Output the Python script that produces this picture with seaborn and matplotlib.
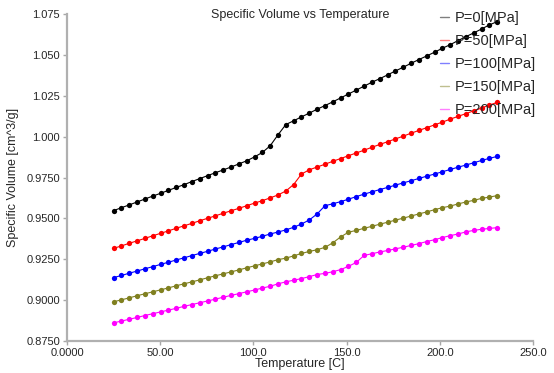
import pandas as pd
import matplotlib
matplotlib.use("Agg")
import matplotlib.pyplot as plt
from matplotlib.lines import Line2D
import seaborn as sns

# Temperatures [C] (50 points, same for every pressure)
temps = [25.0, 29.2, 33.4, 37.6, 41.8, 46.0, 50.2, 54.4, 58.6, 62.8,
         67.0, 71.2, 75.4, 79.6, 83.8, 88.0, 92.2, 96.4, 100.6, 104.8,
         109.0, 113.2, 117.4, 121.6, 125.8, 130.0, 134.2, 138.4, 142.6, 146.8,
         151.0, 155.2, 159.4, 163.6, 167.8, 172.0, 176.2, 180.4, 184.6, 188.8,
         193.0, 197.2, 201.4, 205.6, 209.8, 214.0, 218.2, 222.4, 226.6, 230.8]

# Specific volume [cm^3/g] for each pressure
v_p0 = [0.9548, 0.9566, 0.9583, 0.9601, 0.9619, 0.9637, 0.9654, 0.9672, 0.9690, 0.9707,
        0.9726, 0.9744, 0.9762, 0.9780, 0.9797, 0.9815, 0.9834, 0.9853, 0.9877, 0.9904,
        0.9945, 1.0012, 1.0075, 1.0098, 1.0122, 1.0145, 1.0169, 1.0191, 1.0214, 1.0238,
        1.0262, 1.0286, 1.0310, 1.0334, 1.0356, 1.0379, 1.0403, 1.0426, 1.0450, 1.0473,
        1.0495, 1.0518, 1.0542, 1.0564, 1.0589, 1.0613, 1.0636, 1.0660, 1.0685, 1.0705]
v_p50 = [0.9317, 0.9332, 0.9348, 0.9363, 0.9378, 0.9394, 0.9409, 0.9424, 0.9440, 0.9455,
         0.9470, 0.9486, 0.9501, 0.9516, 0.9532, 0.9547, 0.9562, 0.9578, 0.9594, 0.9609,
         0.9626, 0.9644, 0.9668, 0.9708, 0.9772, 0.9798, 0.9815, 0.9832, 0.9850, 0.9867,
         0.9884, 0.9901, 0.9918, 0.9936, 0.9953, 0.9970, 0.9987, 1.0004, 1.0022, 1.0039,
         1.0056, 1.0073, 1.0090, 1.0108, 1.0125, 1.0142, 1.0159, 1.0176, 1.0194, 1.0211]
v_p100 = [0.9138, 0.9151, 0.9165, 0.9178, 0.9192, 0.9205, 0.9219, 0.9232, 0.9246, 0.9259,
          0.9273, 0.9286, 0.9299, 0.9313, 0.9326, 0.9340, 0.9353, 0.9367, 0.9378, 0.9391,
          0.9405, 0.9417, 0.9430, 0.9446, 0.9466, 0.9491, 0.9528, 0.9578, 0.9590, 0.9603,
          0.9618, 0.9634, 0.9649, 0.9663, 0.9677, 0.9690, 0.9704, 0.9718, 0.9731, 0.9745,
          0.9759, 0.9772, 0.9786, 0.9800, 0.9814, 0.9827, 0.9841, 0.9855, 0.9868, 0.9880]
v_p150 = [0.8990, 0.9002, 0.9014, 0.9027, 0.9039, 0.9051, 0.9063, 0.9075, 0.9088, 0.9100,
          0.9112, 0.9124, 0.9137, 0.9149, 0.9161, 0.9173, 0.9185, 0.9198, 0.9210, 0.9222,
          0.9234, 0.9248, 0.9257, 0.9271, 0.9286, 0.9298, 0.9309, 0.9323, 0.9351, 0.9387,
          0.9416, 0.9427, 0.9440, 0.9452, 0.9465, 0.9477, 0.9490, 0.9502, 0.9515, 0.9528,
          0.9540, 0.9554, 0.9566, 0.9576, 0.9589, 0.9601, 0.9611, 0.9623, 0.9631, 0.9640]
v_p200 = [0.8861, 0.8872, 0.8883, 0.8894, 0.8906, 0.8917, 0.8928, 0.8939, 0.8950, 0.8962,
          0.8973, 0.8984, 0.8995, 0.9006, 0.9018, 0.9029, 0.9040, 0.9051, 0.9062, 0.9074,
          0.9085, 0.9100, 0.9112, 0.9122, 0.9132, 0.9144, 0.9157, 0.9164, 0.9174, 0.9187,
          0.9207, 0.9231, 0.9274, 0.9284, 0.9295, 0.9304, 0.9314, 0.9324, 0.9335, 0.9346,
          0.9359, 0.9370, 0.9383, 0.9395, 0.9405, 0.9418, 0.9427, 0.9434, 0.9439, 0.9444]

labels = ["P=0[MPa]", "P=50[MPa]", "P=100[MPa]", "P=150[MPa]", "P=200[MPa]"]
colors = ["#000000", "#ff0000", "#0000ff", "#808020", "#ff00ff"]
series = [v_p0, v_p50, v_p100, v_p150, v_p200]

xtick_vals = [0, 50, 100, 150, 200, 250]
xtick_labels = ["0.0000", "50.00", "100.0", "150.0", "200.0", "250.0"]
ytick_vals = [0.875, 0.900, 0.925, 0.950, 0.975, 1.000, 1.025, 1.050, 1.075]
ytick_labels = ["0.8750", "0.9000", "0.9250", "0.9500", "0.9750",
                "1.000", "1.025", "1.050", "1.075"]

# Long table for seaborn
rows = []
for lab, vals in zip(labels, series):
    for t, v in zip(temps, vals):
        rows.append({"T": t, "V": v, "P": lab})
df = pd.DataFrame(rows)

sns.set_style("ticks")
plt.rcParams["font.family"] = ["Liberation Sans", "DejaVu Sans"]

fig = plt.figure(figsize=(5.54, 3.73), dpi=100)
ax = fig.add_axes([0.1209, 0.0858, 0.8412, 0.8759])

sns.lineplot(data=df, x="T", y="V", hue="P", hue_order=labels,
             palette=dict(zip(labels, colors)), marker="o", markersize=3.8,
             markeredgewidth=0, linewidth=0.8, legend=False, ax=ax)

ax.set_xlim(0, 250)
ax.set_ylim(0.875, 1.075)
ax.set_xticks(xtick_vals)
ax.set_xticklabels(xtick_labels)
ax.set_yticks(ytick_vals)
ax.set_yticklabels(ytick_labels)
ax.tick_params(labelsize=8, length=3, width=1, color="#a8a8a8", pad=2)

for side in ["top", "right"]:
    ax.spines[side].set_visible(False)
for side in ["left", "bottom"]:
    ax.spines[side].set_color("#b0b0b0")
    ax.spines[side].set_linewidth(1.6)

ax.set_xlabel("Temperature [C]", fontsize=9, labelpad=0)
ax.set_ylabel("Specific Volume [cm^3/g]", fontsize=9, labelpad=5)
ax.set_title("Specific Volume vs Temperature", fontsize=9, y=0.99, pad=0)

handles = [Line2D([0], [0], color=c, lw=1, alpha=0.5) for c in colors]
ax.legend(handles, labels, loc="upper left", bbox_to_anchor=(0.795, 0.97),
          bbox_transform=fig.transFigure, frameon=False, fontsize=10.5,
          handlelength=0.6, handletextpad=0.4, labelspacing=0.62,
          borderpad=0, borderaxespad=0)

plt.savefig("out.png", dpi=100)
